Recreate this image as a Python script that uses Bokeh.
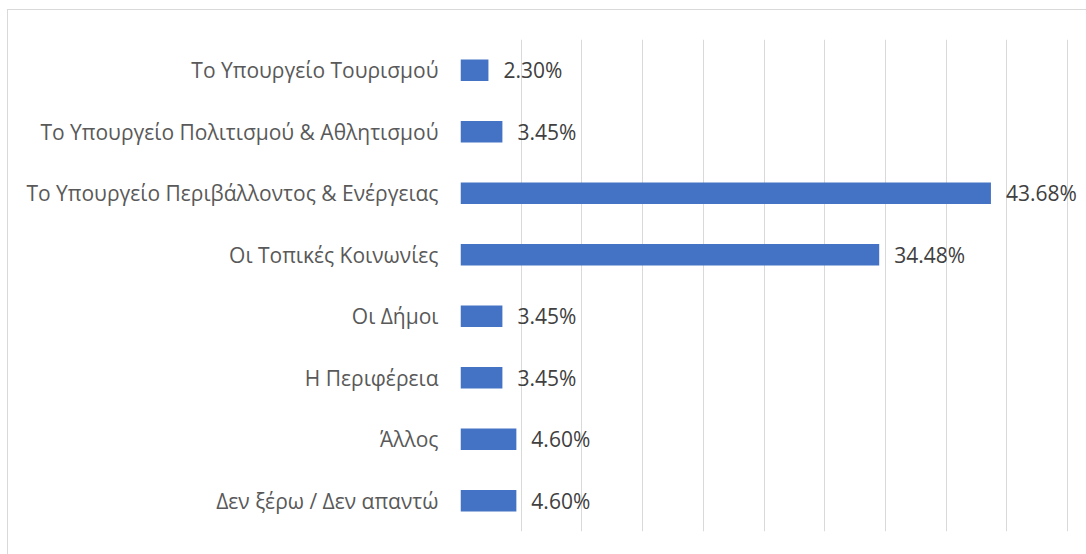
from bokeh.plotting import figure
from bokeh.models import ColumnDataSource, FactorRange, Range1d, FixedTicker
from bokeh.core.properties import value
from bokeh.embed import file_html
from bokeh.resources import INLINE

categories = [
    "Το Υπουργείο Τουρισμού",
    "Το Υπουργείο Πολιτισμού & Αθλητισμού",
    "Το Υπουργείο Περιβάλλοντος & Ενέργειας",
    "Οι Τοπικές Κοινωνίες",
    "Οι Δήμοι",
    "Η Περιφέρεια",
    "Άλλος",
    "Δεν ξέρω / Δεν απαντώ",
]
values = [2.30, 3.45, 43.68, 34.48, 3.45, 3.45, 4.60, 4.60]
labels = ["%.2f%%" % v for v in values]
grid_ticks = [0, 5, 10, 15, 20, 25, 30, 35, 40, 45, 50]

FONT = "Open Sans"

src = ColumnDataSource(dict(cat=categories, val=values, lab=labels))

p = figure(
    width=1078, height=544,
    y_range=FactorRange(factors=list(reversed(categories)), range_padding=0),
    x_range=Range1d(0, 51.55),
    output_backend="svg", toolbar_location=None,
    min_border_left=452, min_border_right=0, min_border_top=29, min_border_bottom=23,
)
p.styles = {"outline": "1px solid #d9d9d9", "margin-left": "8px", "margin-top": "10px"}
p.outline_line_color = None
p.background_fill_color = "white"
p.border_fill_color = "white"

p.hbar(y="cat", right="val", left=0, height=0.35, source=src,
       fill_color="#4472C4", line_color=None)

p.text(x="val", y="cat", text="lab", source=src, x_offset=15,
       text_baseline="middle", text_align="left",
       text_font=value(FONT), text_font_size="21px", text_color="#404040")

p.xaxis.visible = False
p.xgrid.ticker = FixedTicker(ticks=grid_ticks)
p.xgrid.grid_line_color = "#d9d9d9"
p.xgrid.grid_line_width = 1
p.ygrid.grid_line_color = None

yax = p.yaxis[0]
yax.axis_line_color = None
yax.major_tick_line_color = None
yax.minor_tick_line_color = None
yax.major_tick_out = 0
yax.major_tick_in = 0
yax.major_label_standoff = 22
yax.major_label_text_font = FONT
yax.major_label_text_font_size = "21px"
yax.major_label_text_color = "#595959"

open("out.html", "w").write(file_html(p, INLINE))
